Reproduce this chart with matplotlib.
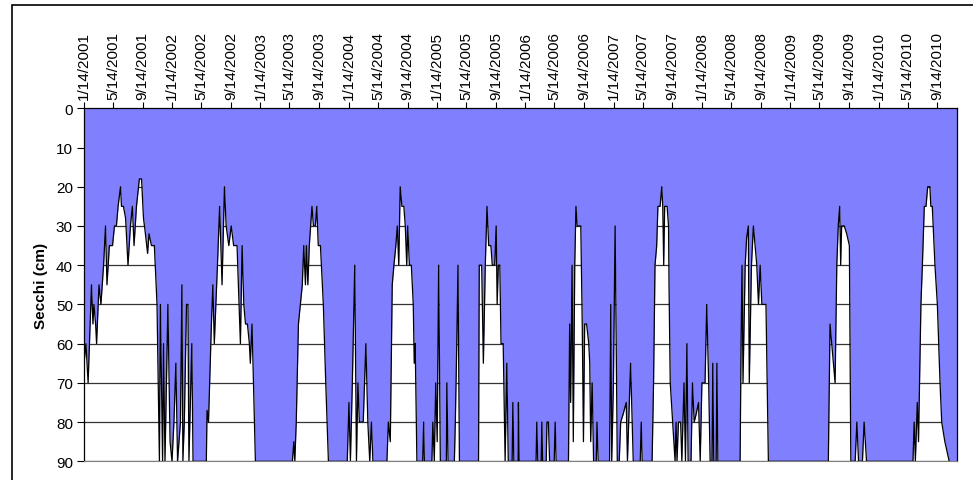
import numpy as np
import pandas as pd
import matplotlib
matplotlib.use('Agg')
import matplotlib.pyplot as plt
from matplotlib.patches import Rectangle

plt.rcParams['font.family'] = ['Liberation Sans', 'DejaVu Sans']

# sample day (days after 1/14/2001) and secchi depth in cm
start = pd.Timestamp('2001-01-14')
day = [0, 8, 17, 31, 37, 41, 48, 52, 62, 70, 81, 89, 95, 105, 118, 126, 134, 141, 151, 155,
       163, 172, 182, 192, 200, 207, 217, 229, 238, 246, 254, 263, 269, 279, 291, 302, 312, 316,
       325, 329, 335, 347, 356, 364, 372, 380, 387, 399, 405, 409, 415, 424, 430, 434, 446, 451,
       506, 509, 515, 527, 533, 539, 552, 561, 571, 581, 588, 599, 609, 619, 633, 647, 654, 661,
       668, 676, 684, 688, 695, 709,
       862, 868, 872, 878, 887, 895, 903, 909, 916, 920, 926, 932, 943, 949, 957, 963, 969, 978,
       990, 1000, 1011,
       1089, 1096, 1102, 1110, 1120, 1127, 1133, 1139, 1155, 1166, 1174, 1182, 1189, 1195,
       1253, 1259, 1267, 1271, 1275, 1282, 1290, 1296, 1302, 1308, 1315, 1323, 1329, 1335, 1339,
       1346, 1354, 1362, 1366, 1370, 1377,
       1401, 1405, 1408, 1439, 1443, 1449, 1455, 1461, 1467, 1474, 1499, 1501, 1506, 1532, 1536,
       1542, 1547, 1553,
       1632, 1635, 1645, 1652, 1660, 1667, 1674, 1683, 1689, 1699, 1705, 1709, 1714, 1720, 1725,
       1734, 1742, 1749, 1755, 1771, 1774, 1778, 1796, 1797, 1800,
       1870, 1873, 1877, 1891, 1894, 1897, 1912, 1915, 1921, 1926, 1945, 1949, 1953,
       2004, 2009, 2013, 2019, 2024, 2030, 2035, 2040, 2055, 2061, 2066, 2071, 2079, 2088, 2092,
       2096, 2102, 2108, 2119, 2122, 2127,
       2174, 2179, 2183, 2190, 2197, 2206, 2214, 2220, 2230, 2243, 2248, 2261, 2272, 2301, 2305,
       2309,
       2350, 2356, 2362, 2369, 2374, 2383, 2390, 2394, 2398, 2402, 2412, 2418, 2420, 2425, 2435,
       2445, 2449, 2453, 2459, 2468, 2473, 2482, 2488, 2494, 2499, 2511, 2517, 2524, 2532, 2542,
       2549, 2556, 2569, 2576, 2584, 2590, 2598, 2601, 2605, 2615, 2618, 2622,
       2714, 2718, 2722, 2726, 2735, 2741, 2748, 2752, 2761, 2769, 2776, 2783, 2790, 2797, 2804,
       2821, 2831,
       3079, 3086, 3093, 3107, 3114, 3120, 3126, 3130, 3134, 3145, 3155, 3166, 3172, 3190, 3197,
       3204, 3220, 3227, 3237,
       3429, 3434, 3439, 3447, 3452, 3462, 3468, 3476, 3483, 3490, 3499, 3503, 3509, 3520, 3530,
       3541, 3548, 3561, 3579]
secchi = [65, 60, 70, 45, 55, 50, 55, 60, 45, 50, 40, 30, 45, 35, 35, 30, 30, 25, 20, 25,
          25, 28, 40, 30, 25, 35, 25, 18, 18, 28, 32, 37, 32, 35, 35, 50, 90, 50,
          90, 60, 90, 50, 85, 90, 80, 65, 90, 80, 45, 90, 80, 50, 50, 90, 60, 90,
          90, 77, 80, 55, 45, 60, 40, 25, 45, 20, 30, 35, 30, 35, 35, 60, 35, 50,
          55, 55, 60, 65, 55, 90,
          90, 85, 90, 80, 55, 50, 45, 35, 45, 35, 45, 35, 25, 30, 30, 25, 35, 35,
          50, 70, 90,
          90, 75, 90, 70, 40, 90, 70, 80, 80, 60, 80, 90, 80, 90,
          90, 80, 85, 65, 45, 40, 35, 30, 40, 20, 25, 25, 30, 40, 30,
          40, 40, 50, 65, 60, 90,
          90, 80, 90, 90, 80, 90, 70, 85, 40, 90, 90, 70, 90, 90, 80,
          60, 40, 90,
          90, 40, 40, 65, 40, 25, 35, 35, 40, 40, 30, 50, 40, 40, 60,
          60, 90, 65, 90, 90, 75, 90, 90, 75, 90,
          90, 80, 90, 90, 80, 90, 90, 80, 80, 90, 90, 80, 90,
          90, 55, 75, 40, 85, 40, 25, 30, 30, 55, 85, 55, 55, 60, 65,
          85, 70, 90, 90, 80, 90,
          90, 50, 90, 70, 30, 90, 90, 80, 78, 75, 90, 65, 90, 90, 80,
          90,
          90, 70, 40, 35, 25, 25, 20, 25, 40, 25, 25, 30, 45, 70, 80,
          90, 80, 90, 80, 80, 90, 70, 90, 60, 90, 90, 70, 80, 78, 75,
          90, 70, 70, 50, 70, 90, 90, 65, 90, 90, 65, 90,
          90, 60, 40, 70, 40, 33, 30, 70, 40, 30, 35, 40, 50, 40, 50,
          50, 90,
          90, 55, 60, 70, 40, 30, 25, 40, 30, 30, 32, 35, 90, 90, 80,
          90, 90, 80, 90,
          90, 80, 90, 75, 85, 50, 40, 25, 25, 20, 20, 25, 25, 40, 50,
          70, 80, 85, 90]

dates = start + pd.to_timedelta(day, unit='D')
end = start + pd.Timedelta(days=3610)
tick_dates = [start + pd.DateOffset(months=4 * i) for i in range(30)]
tick_labels = [f"{d.month}/{d.day}/{d.year}" for d in tick_dates]

blue = '#8080FF'
fig = plt.figure(figsize=(9.73, 4.81), dpi=100)
ax = fig.add_axes([84 / 973, 18.7 / 481, 872.7 / 973, 353 / 481])

ax.fill_between(dates, 0, secchi, color=blue, lw=0, zorder=2)
ax.axvspan(dates[-1], end, color=blue, lw=0, zorder=2)
ax.plot(dates, secchi, color='black', lw=0.9, zorder=3)

ax.set_ylim(90, 0)
ax.set_xlim(start, end)
ax.set_yticks(np.arange(0, 91, 10))
ax.yaxis.grid(True, color='#333333', lw=0.9, zorder=1)
ax.set_axisbelow(True)

ax.xaxis.tick_top()
ax.set_xticks(tick_dates)
ax.set_xticklabels(tick_labels, rotation=90)
ax.tick_params(axis='x', direction='out', length=4, width=0.8, pad=3, labelsize=11)
ax.tick_params(axis='y', direction='out', length=5, width=0.8, pad=3, labelsize=11)
ax.set_ylabel('Secchi (cm)', fontweight='bold', fontsize=11, labelpad=6)

for s in ['left', 'top', 'right']:
    ax.spines[s].set_color('black')
    ax.spines[s].set_linewidth(0.9)
ax.spines['bottom'].set_color('#808080')

# outer chart border
fig.patches.append(Rectangle((12 / 973, -0.1), 1.2, 1.1 - 6 / 481, transform=fig.transFigure,
                             fill=False, edgecolor='black', lw=1.2))

fig.savefig('out.png', dpi=100)
